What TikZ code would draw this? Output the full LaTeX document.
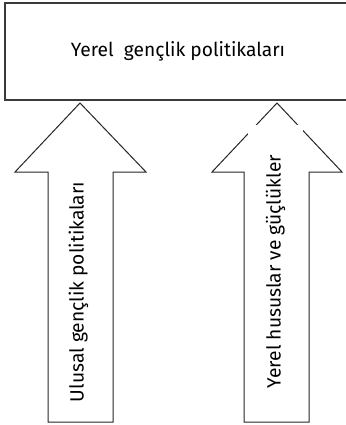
\documentclass[tikz,border=0pt]{standalone}
\usepackage{fontspec}
\setmainfont{Fira Sans}
\usepackage{xcolor}
\definecolor{mgray}{RGB}{58,58,58}

\begin{document}
\begin{tikzpicture}[x=0.75pt, y=-0.75pt, color = black]
  \tikzset{goal box/.style={draw=mgray, line width=1.1pt, minimum width=346*0.75pt, minimum height=97*0.75pt, font=\fontsize{14.4}{17}\selectfont},
           up arrow/.style={draw=black!85, line width=0.75pt, fill=white},
           arrow text/.style={rotate=90, font=\fontsize{14.4}{17}\selectfont}}

  \useasboundingbox (0,0) rectangle (346,425);

  \node [goal box] (local) at (178,51.5) {Yerel\ \ gençlik politikaları}; % top
  \coordinate (tipA) at (80,103);
  \coordinate (tipB) at (277,103);

  \draw [up arrow] (tipA) -- (146,172) -- (113,172) -- (113,422) -- (48,422) -- (48,172) -- (15,172) -- cycle; % A
  \draw [up arrow] (tipB) -- (342,172) -- (309,172) -- (309,422) -- (244,422) -- (244,172) -- (212,172) -- cycle; % B

  \node [arrow text] (national) at (78.5,292) {Ulusal gençlik politikaları};
  \node [arrow text, fill=white, minimum width=293*0.75pt, minimum height=55*0.75pt] (issues) at (275.5,271.5) {Yerel hususlar ve güçlükler};
\end{tikzpicture}
\end{document}
